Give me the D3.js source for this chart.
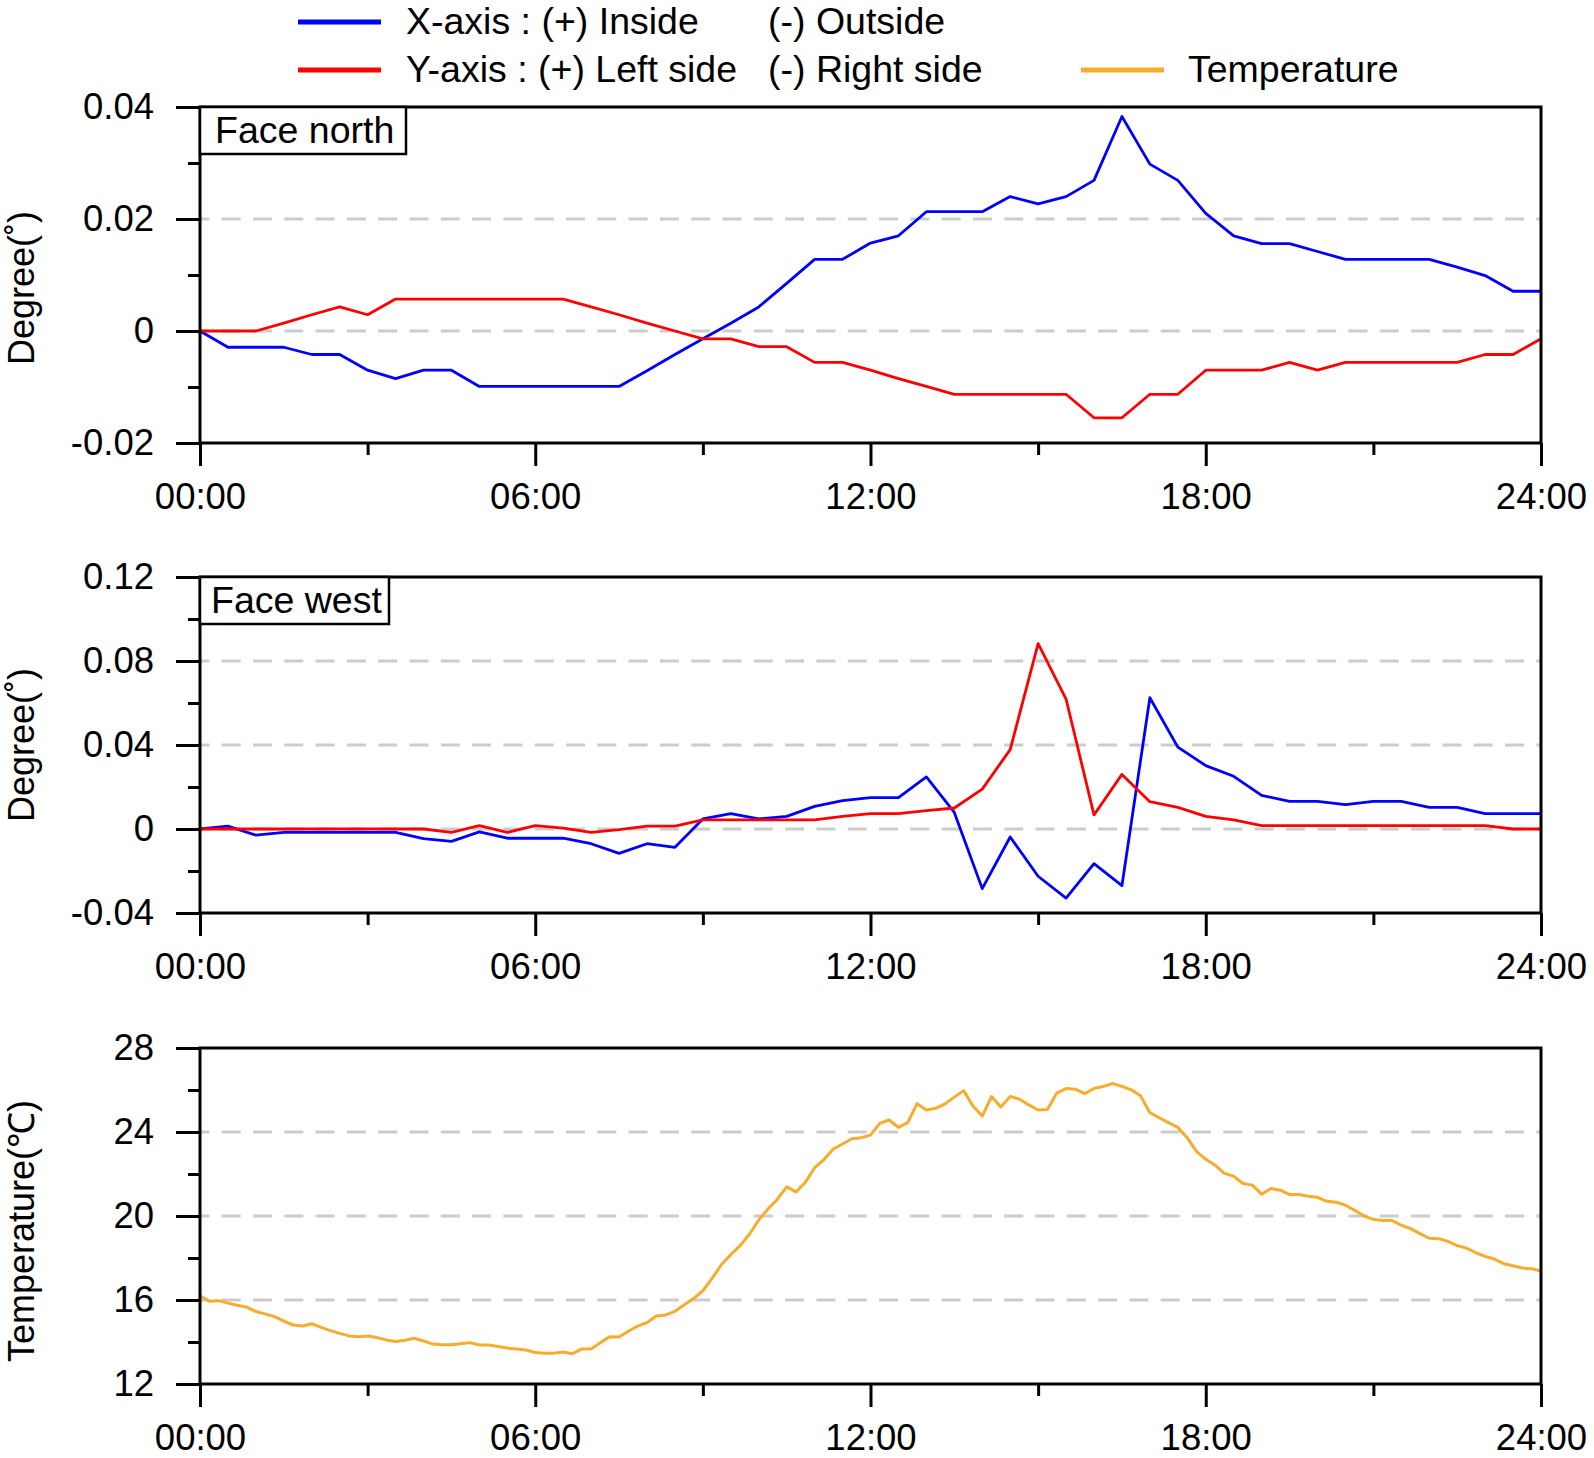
<!DOCTYPE html>
<html>
<head>
<meta charset="utf-8">
<script src="https://cdn.jsdelivr.net/npm/d3@7"></script>
<style>
  body { margin: 0; background: #fff; }
  text { font-family: "Liberation Sans", Arial, sans-serif; fill: #000; }
</style>
</head>
<body>
<svg id="chart"></svg>
<script>
/* -------- tilt + temperature panels -------- */

// sampling grids (hours): tilt every 30 min, temperature every 10 min
let halfHours = d3.range(0, 49).map(i => i / 2);
let tenMinutes = d3.range(0, 145).map(i => i / 6);

// face north, degrees
let northX = [0, -0.0029, -0.0029, -0.0029, -0.0042, -0.0042, -0.0070, -0.0085, -0.0070, -0.0070,
  -0.0099, -0.0099, -0.0099, -0.0099, -0.0099, -0.0099, -0.0071, -0.0042, -0.0014, 0.0014,
  0.0043, 0.0085, 0.0128, 0.0128, 0.0157, 0.0170, 0.0213, 0.0213, 0.0213, 0.0240,
  0.0227, 0.0240, 0.0269, 0.0383, 0.0298, 0.0269, 0.0210, 0.0170, 0.0156, 0.0156,
  0.0142, 0.0128, 0.0128, 0.0128, 0.0128, 0.0114, 0.0099, 0.0071, 0.0071];
let northY = [0, 0, 0, 0.0014, 0.0029, 0.0043, 0.0029, 0.0057, 0.0057, 0.0057,
  0.0057, 0.0057, 0.0057, 0.0057, 0.0043, 0.0029, 0.0014, 0, -0.0014, -0.0014,
  -0.0028, -0.0028, -0.0056, -0.0056, -0.0070, -0.0085, -0.0099, -0.0113, -0.0113, -0.0113,
  -0.0113, -0.0113, -0.0155, -0.0155, -0.0113, -0.0113, -0.0070, -0.0070, -0.0070, -0.0056,
  -0.0070, -0.0056, -0.0056, -0.0056, -0.0056, -0.0056, -0.0042, -0.0042, -0.0014];

// face west, degrees
let westX = [0, 0.0014, -0.0029, -0.0016, -0.0016, -0.0016, -0.0016, -0.0016, -0.0046, -0.0059,
  -0.0014, -0.0044, -0.0044, -0.0044, -0.0070, -0.0116, -0.0070, -0.0087, 0.0048, 0.0073,
  0.0048, 0.0060, 0.0108, 0.0135, 0.0149, 0.0149, 0.0248, 0.0079, -0.0284, -0.0038,
  -0.0225, -0.0329, -0.0165, -0.0270, 0.0625, 0.0390, 0.0302, 0.0251, 0.0160, 0.0132,
  0.0132, 0.0116, 0.0132, 0.0132, 0.0103, 0.0103, 0.0073, 0.0073, 0.0073];
let westY = [0, 0, 0, 0, 0, 0, 0, 0, 0, -0.0016,
  0.0016, -0.0016, 0.0016, 0.0004, -0.0016, -0.0003, 0.0014, 0.0014, 0.0043, 0.0043,
  0.0043, 0.0043, 0.0043, 0.0060, 0.0073, 0.0073, 0.0087, 0.0100, 0.0190, 0.0378,
  0.0883, 0.0619, 0.0067, 0.0260, 0.0130, 0.0103, 0.0060, 0.0043, 0.0016, 0.0016,
  0.0016, 0.0016, 0.0016, 0.0016, 0.0016, 0.0016, 0.0016, 0, 0];

// air temperature, deg C
let temperature = [16.20, 15.94, 15.97, 15.85, 15.75, 15.66, 15.45, 15.34, 15.21, 14.99, 14.81, 14.76,
  14.87, 14.70, 14.54, 14.41, 14.29, 14.25, 14.29, 14.21, 14.10, 14.02, 14.08, 14.18,
  14.05, 13.90, 13.87, 13.87, 13.92, 13.97, 13.86, 13.86, 13.79, 13.71, 13.67, 13.62,
  13.50, 13.47, 13.47, 13.52, 13.44, 13.67, 13.67, 13.97, 14.25, 14.24, 14.51, 14.76,
  14.92, 15.24, 15.29, 15.46, 15.77, 16.07, 16.44, 17.04, 17.69, 18.16, 18.59, 19.13,
  19.81, 20.34, 20.80, 21.39, 21.15, 21.60, 22.30, 22.69, 23.19, 23.43, 23.68, 23.73,
  23.85, 24.41, 24.57, 24.22, 24.45, 25.35, 25.05, 25.13, 25.34, 25.66, 25.97, 25.24,
  24.76, 25.69, 25.19, 25.69, 25.56, 25.29, 25.05, 25.07, 25.85, 26.07, 26.04, 25.83,
  26.07, 26.17, 26.31, 26.17, 26.01, 25.72, 24.92, 24.68, 24.45, 24.22, 23.73, 23.08,
  22.70, 22.42, 22.03, 21.90, 21.55, 21.47, 21.04, 21.31, 21.23, 21.02, 21.02, 20.94,
  20.89, 20.70, 20.66, 20.51, 20.27, 20.00, 19.84, 19.78, 19.78, 19.56, 19.40, 19.16,
  18.94, 18.92, 18.79, 18.59, 18.47, 18.25, 18.08, 17.95, 17.73, 17.63, 17.52, 17.49,
  17.38];

// ticks
let hourTicks = [0, 6, 12, 18, 24];
let hourMinor = [3, 9, 15, 21];
let northTicks = [-0.02, 0, 0.02, 0.04];
let northMinor = [-0.01, 0.01, 0.03];
let westTicks = [-0.04, 0, 0.04, 0.08, 0.12];
let westMinor = [-0.02, 0.02, 0.06, 0.10];
let tempTicks = [12, 16, 20, 24, 28];
let tempMinor = [14, 18, 22, 26];

let legendLabels = [
  ["X-axis : (+) Inside", "(-) Outside"],
  ["Y-axis : (+) Left side", "(-) Right side"],
  ["Temperature"]
];

let width = 1594;
let height = 1458;
let left = 200;
let plotWidth = 1341;
let plotHeight = 336;
let fontSize = 36.5;
let labelSize = 37.5;
let blue = "#0000ff";
let red = "#ff0000";
let orange = "#f7ac2c";

let svg = d3.select("#chart")
    .attr("width", width)
    .attr("height", height);

svg.append("rect")
    .attr("width", width)
    .attr("height", height)
    .attr("fill", "#fff");

let scaleX = d3.scaleLinear()
    .domain([0, 24])
    .range([0, plotWidth]);

let degFormat = d => d === 0 ? "0" : d.toFixed(2);
let intFormat = d => String(d);
let hourFormat = d => String(d).padStart(2, "0") + ":00";

let panels = [
  { top: 107, domain: [-0.02, 0.04], ticks: northTicks, minor: northMinor, fmt: degFormat,
    title: "Degree(˚)", titleY: 288, tag: "Face north", tagW: 206, tagX: 15,
    series: [{ t: halfHours, v: northX, c: blue, w: 2.8 }, { t: halfHours, v: northY, c: red, w: 2.8 }] },
  { top: 577, domain: [-0.04, 0.12], ticks: westTicks, minor: westMinor, fmt: degFormat,
    title: "Degree(˚)", titleY: 745, tag: "Face west", tagW: 189, tagX: 11,
    series: [{ t: halfHours, v: westX, c: blue, w: 2.8 }, { t: halfHours, v: westY, c: red, w: 2.8 }] },
  { top: 1048, domain: [12, 28], ticks: tempTicks, minor: tempMinor, fmt: intFormat,
    title: "Temperature(℃)", titleY: 1231, tag: null,
    series: [{ t: tenMinutes, v: temperature, c: orange, w: 3 }] }
];

function styleAxis(sel) {
  sel.select(".domain").remove();
  sel.selectAll(".tick line")
      .attr("stroke", "#000")
      .attr("stroke-width", 3);
  sel.selectAll(".tick text")
      .attr("font-size", fontSize)
      .attr("font-family", "Liberation Sans, Arial, sans-serif")
      .attr("fill", "#000");
  sel.attr("font-family", null).attr("font-size", null);
}

panels.forEach(p => {
  let scaleY = d3.scaleLinear()
      .domain(p.domain)
      .range([plotHeight, 0]);

  let g = svg.append("g")
      .attr("transform", `translate(${left}, ${p.top})`);

  // dashed gridlines at the inner major ticks
  let grid = p.ticks.filter(v => v !== p.domain[0] && v !== p.domain[1]);
  g.selectAll("line.grid").data(grid)
    .join("line")
      .attr("class", "grid")
      .attr("x1", 0)
      .attr("x2", plotWidth)
      .attr("y1", d => scaleY(d))
      .attr("y2", d => scaleY(d))
      .attr("stroke", "#cccccc")
      .attr("stroke-width", 3)
      .attr("stroke-dasharray", "19 12.3")
      .attr("stroke-dashoffset", 9.6);

  p.series.forEach(s => {
    let line = d3.line()
        .x((d, i) => scaleX(s.t[i]))
        .y(d => scaleY(d));
    g.append("path")
        .datum(s.v)
        .attr("d", line)
        .attr("fill", "none")
        .attr("stroke", s.c)
        .attr("stroke-width", s.w)
        .attr("stroke-linejoin", "round");
  });

  // frame
  g.append("rect")
      .attr("width", plotWidth)
      .attr("height", plotHeight)
      .attr("fill", "none")
      .attr("stroke", "#000")
      .attr("stroke-width", 3);

  g.append("g")
      .call(d3.axisLeft(scaleY).tickValues(p.ticks).tickSize(24).tickPadding(22).tickFormat(p.fmt))
      .call(styleAxis);
  g.append("g")
      .call(d3.axisLeft(scaleY).tickValues(p.minor).tickSize(12).tickFormat(""))
      .call(styleAxis);
  g.append("g")
      .attr("transform", `translate(0, ${plotHeight})`)
      .call(d3.axisBottom(scaleX).tickValues(hourTicks).tickSize(23).tickPadding(17).tickFormat(hourFormat))
      .call(styleAxis);
  g.append("g")
      .attr("transform", `translate(0, ${plotHeight})`)
      .call(d3.axisBottom(scaleX).tickValues(hourMinor).tickSize(12).tickFormat(""))
      .call(styleAxis);

  // panel tag box
  if (p.tag) {
    g.append("rect")
        .attr("width", p.tagW)
        .attr("height", 47)
        .attr("fill", "#fff")
        .attr("stroke", "#000")
        .attr("stroke-width", 2.5);
    g.append("text")
        .attr("x", p.tagX)
        .attr("y", 36)
        .attr("font-size", labelSize)
        .text(p.tag);
  }

  svg.append("text")
      .attr("transform", `translate(34, ${p.titleY}) rotate(-90)`)
      .attr("text-anchor", "middle")
      .attr("font-size", 36)
      .text(p.title);
});

// legend
let legend = svg.append("g");
let legendItems = [
  { x: 298, y: 22, c: blue, labels: legendLabels[0], tx: [406, 768] },
  { x: 298, y: 70, c: red, labels: legendLabels[1], tx: [406, 768] },
  { x: 1081, y: 70, c: orange, labels: legendLabels[2], tx: [1188] }
];
legendItems.forEach(item => {
  legend.append("line")
      .attr("x1", item.x)
      .attr("x2", item.x + 83)
      .attr("y1", item.y)
      .attr("y2", item.y)
      .attr("stroke", item.c)
      .attr("stroke-width", 5);
  item.labels.forEach((lab, i) => {
    legend.append("text")
        .attr("x", item.tx[i])
        .attr("y", item.y + 12)
        .attr("font-size", labelSize)
        .text(lab);
  });
});
</script>
</body>
</html>
